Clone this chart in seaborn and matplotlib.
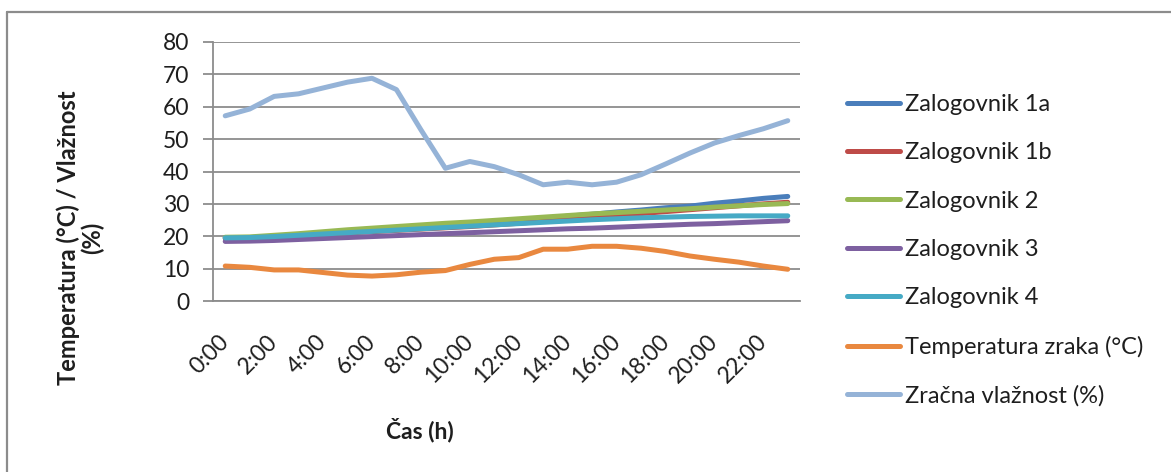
import numpy as np
import pandas as pd
import matplotlib
matplotlib.use("Agg")
import matplotlib.pyplot as plt
from matplotlib.lines import Line2D
import seaborn as sns

hours = list(range(24))
tick_labels = [f"{h}:00" for h in range(0, 24, 2)]

zalogovnik_1a = [19.5, 19.6, 19.9, 20.3, 20.8, 21.3, 21.7, 22.1, 22.6, 23.0, 23.5, 24.1,
                 24.7, 25.4, 26.2, 26.8, 27.5, 28.1, 28.8, 29.3, 30.2, 30.9, 31.7, 32.3]
zalogovnik_1b = [19.4, 19.5, 19.8, 20.2, 20.6, 21.0, 21.4, 21.8, 22.2, 22.6, 23.0, 23.5,
                 24.0, 24.6, 25.2, 25.8, 26.4, 27.0, 27.6, 28.2, 28.8, 29.4, 30.0, 30.5]
zalogovnik_2 = [19.7, 19.8, 20.3, 20.8, 21.4, 22.0, 22.5, 23.0, 23.5, 24.0, 24.4, 24.9,
                25.4, 25.9, 26.4, 26.9, 27.3, 27.7, 28.1, 28.5, 29.0, 29.4, 29.8, 30.1]
zalogovnik_3 = [18.4, 18.5, 18.7, 19.0, 19.3, 19.6, 19.9, 20.2, 20.5, 20.8, 21.1, 21.4,
                21.7, 22.0, 22.3, 22.5, 22.8, 23.1, 23.4, 23.7, 23.9, 24.2, 24.5, 24.8]
zalogovnik_4 = [19.5, 19.6, 19.9, 20.3, 20.7, 21.1, 21.5, 21.9, 22.3, 22.7, 23.1, 23.5,
                23.9, 24.3, 24.7, 25.1, 25.4, 25.7, 25.9, 26.1, 26.2, 26.3, 26.3, 26.3]
temperatura_zraka = [10.8, 10.4, 9.6, 9.6, 8.8, 8.0, 7.7, 8.1, 8.9, 9.4, 11.3, 12.9,
                     13.4, 16.0, 16.0, 16.9, 16.9, 16.3, 15.3, 13.9, 12.9, 12.0, 10.8, 9.8]
zracna_vlaznost = [57.2, 59.3, 63.2, 64.0, 65.8, 67.6, 68.8, 65.3, 52.9, 41.0, 43.1, 41.5,
                   39.0, 35.9, 36.7, 35.9, 36.7, 39.0, 42.3, 45.7, 48.8, 51.1, 53.2, 55.7]

series_names = ["Zalogovnik 1a", "Zalogovnik 1b", "Zalogovnik 2", "Zalogovnik 3",
                "Zalogovnik 4", "Temperatura zraka (°C)", "Zračna vlažnost (%)"]
series_values = [zalogovnik_1a, zalogovnik_1b, zalogovnik_2, zalogovnik_3,
                 zalogovnik_4, temperatura_zraka, zracna_vlaznost]
colors = ["#4A7EBB", "#BE4B48", "#98B954", "#7D60A0", "#46AAC5", "#E9883F", "#95B3D7"]

df = pd.concat(
    [pd.DataFrame({"ura": hours, "vrednost": v, "serija": n})
     for n, v in zip(series_names, series_values)],
    ignore_index=True,
)

sns.set_theme(style="white")
plt.rcParams["font.family"] = ["Lato", "DejaVu Sans"]

TXT = "#1E1E1E"
fig = plt.figure(figsize=(11.71, 4.72), dpi=100)
ax = fig.add_axes([213 / 1171, 1 - 301 / 472, (800 - 213) / 1171, (301 - 42) / 472])

sns.lineplot(data=df, x="ura", y="vrednost", hue="serija", hue_order=series_names,
             palette=dict(zip(series_names, colors)), linewidth=3.6,
             legend=False, ax=ax, solid_capstyle="round")

grid_c = "#8C8C8C"
ax.set_xlim(-0.5, 23.5)
ax.set_ylim(0, 80)
ax.set_yticks(range(0, 81, 10))
ax.yaxis.grid(True, color=grid_c, linewidth=1.3)
ax.set_axisbelow(True)
for s in ["top", "right"]:
    ax.spines[s].set_visible(False)
for s in ["left", "bottom"]:
    ax.spines[s].set_color(grid_c)
    ax.spines[s].set_linewidth(1.3)
ax.tick_params(axis="y", length=7, width=1.3, color=grid_c, pad=10, labelsize=16.5,
               labelcolor=TXT, left=True)
ax.set_xticks(range(0, 24, 2))
ax.set_xticklabels(tick_labels, rotation=45, ha="right", va="center",
                   rotation_mode="anchor", fontsize=16.5, color=TXT)
ax.tick_params(axis="x", length=0, pad=27)
ax.set_xlabel("")
ax.set_ylabel("")

fig.text(420 / 1171, 1 - 430 / 472, "Čas (h)", ha="center", va="center",
         fontsize=16.5, fontweight="bold", color=TXT)
fig.text(80 / 1171, 1 - 238 / 472, "Temperatura (°C) / Vlažnost\n(%)", ha="center",
         va="center", rotation=90, fontsize=17, fontweight="bold", color=TXT,
         linespacing=1.05)

handles = [Line2D([0], [0], color=c, linewidth=3.6, solid_capstyle="round") for c in colors]
fig.legend(handles, series_names, loc="upper left",
           bbox_to_anchor=(835 / 1171, 1 - 82 / 472), frameon=False, fontsize=17,
           handlelength=2.25, handletextpad=0.2, labelspacing=1.16, borderpad=0,
           labelcolor=TXT)

# chart frame
fig.add_artist(Line2D([7 / 1171, 7 / 1171], [0, 1 - 12 / 472], color=grid_c,
                      linewidth=1.6, transform=fig.transFigure))
fig.add_artist(Line2D([7 / 1171, 1], [1 - 12 / 472, 1 - 12 / 472], color=grid_c,
                      linewidth=1.6, transform=fig.transFigure))

fig.savefig("out.png", dpi=100, facecolor="white")
